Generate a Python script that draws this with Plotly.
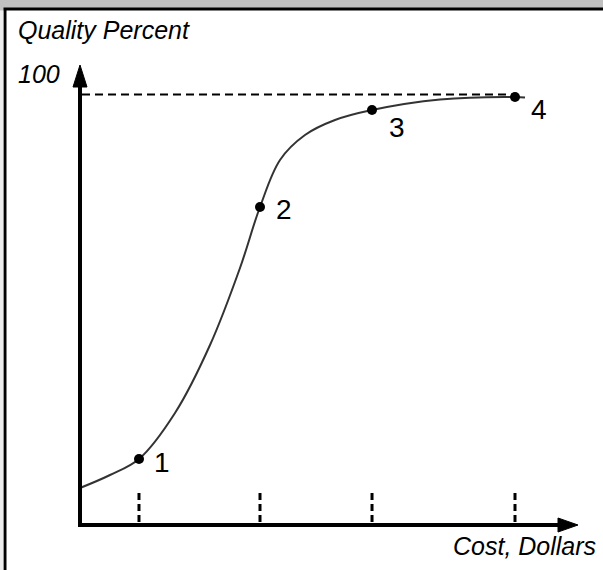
import plotly.graph_objects as go

# ---- data ----
curve_cost = [0, 6.90, 13.56, 21.84, 29.89, 36.78, 41.38, 45.98, 51.72, 58.62, 67.13, 82.76, 100, 102.3]
curve_quality = [8.59, 11.61, 15.33, 26.02, 41.81, 59.70, 73.87, 84.79, 90.59, 94.08, 96.40, 98.84, 99.42, 99.30]
point_cost = [13.56, 41.38, 67.13, 100]
point_quality = [15.33, 73.87, 96.40, 99.42]
point_labels = ["1", "2", "3", "4"]
max_quality = 100
tick_top = 8.1

W, H = 603, 570
# pixel scale of the axes
x0_px, y0_px = 80, 525
px_per_x = 4.35
px_per_y = 4.305
x_range = [-x0_px / px_per_x, (W - x0_px) / px_per_x]
y_range = [(y0_px - H) / px_per_y, y0_px / px_per_y]

def dx(px):
    return px / px_per_x

def dy(px):
    return px / px_per_y

fig = go.Figure()

# curve
fig.add_trace(go.Scatter(x=curve_cost, y=curve_quality, mode="lines",
                         line=dict(color="#333333", width=2, shape="spline", smoothing=1.0),
                         hoverinfo="skip", showlegend=False))
# dashed 100% line
fig.add_trace(go.Scatter(x=[dx(2), point_cost[-1]], y=[max_quality, max_quality], mode="lines",
                         line=dict(color="black", width=2, dash="8px,5px"),
                         hoverinfo="skip", showlegend=False))
# dashed ticks
for c in point_cost:
    fig.add_trace(go.Scatter(x=[c, c], y=[dy(3), tick_top], mode="lines",
                             line=dict(color="black", width=3, dash="7px,4px"),
                             hoverinfo="skip", showlegend=False))
# points
fig.add_trace(go.Scatter(x=point_cost, y=point_quality, mode="markers",
                         marker=dict(color="black", size=10),
                         hoverinfo="skip", showlegend=False))

# point labels
label_offsets = [(13, -3), (14, -3), (15, -17), (14, -12)]
for c, q, t, (xs, ys) in zip(point_cost, point_quality, point_labels, label_offsets):
    fig.add_annotation(x=c, y=q, text=t, showarrow=False, xanchor="left", yanchor="middle",
                       xshift=xs, yshift=ys,
                       font=dict(family="Liberation Sans, Arial", size=28, color="black"))

shapes = []
# frame
shapes.append(dict(type="rect", xref="paper", yref="paper", x0=5 / W, x1=1.05, y0=-0.05, y1=1 - 9 / H,
                   fillcolor="white", line=dict(color="black", width=3), layer="below"))
shapes.append(dict(type="rect", xref="paper", yref="paper", x0=0, x1=3.4 / W, y0=-0.01, y1=1 - 10.5 / H,
                   fillcolor="#ececec", line=dict(width=0), layer="below"))
# axes
shapes.append(dict(type="line", x0=-dx(2), x1=dx(482), y0=0, y1=0, line=dict(color="black", width=4)))
shapes.append(dict(type="line", x0=0, x1=0, y0=-dy(2), y1=dy(440), line=dict(color="black", width=4)))
# arrowheads
ax_tip, ax_base, ax_half = dx(498), dx(478), dy(7)
shapes.append(dict(type="path", path=f"M {ax_base} {ax_half} L {ax_tip} 0 L {ax_base} {-ax_half} Z",
                   fillcolor="black", line=dict(color="black", width=1)))
ay_tip, ay_base, ay_half = dy(460), dy(438), dx(7)
shapes.append(dict(type="path", path=f"M {-ay_half} {ay_base} L 0 {ay_tip} L {ay_half} {ay_base} Z",
                   fillcolor="black", line=dict(color="black", width=1)))

fig.update_layout(shapes=shapes)

italic = dict(family="Liberation Sans, Arial", size=25, color="black", style="italic")
fig.add_annotation(xref="paper", yref="paper", x=16 / W, y=1 - 30 / H, text="Quality Percent",
                   showarrow=False, xanchor="left", yanchor="middle", font=italic)
fig.add_annotation(xref="paper", yref="paper", x=16 / W, y=1 - 74 / H, text="100",
                   showarrow=False, xanchor="left", yanchor="middle", font=italic)
fig.add_annotation(xref="paper", yref="paper", x=598 / W, y=1 - 546 / H, text="Cost, Dollars",
                   showarrow=False, xanchor="right", yanchor="middle", font=italic)

fig.update_layout(
    width=W, height=H,
    margin=dict(l=0, r=0, t=0, b=0),
    paper_bgcolor="#c0c0c0", plot_bgcolor="rgba(0,0,0,0)",
    xaxis=dict(range=x_range, visible=False, fixedrange=True),
    yaxis=dict(range=y_range, visible=False, fixedrange=True),
    showlegend=False,
)

fig.write_html("out.html", config={"displayModeBar": False},
               post_script="document.body.style.margin='0';document.body.style.overflow='hidden';")
